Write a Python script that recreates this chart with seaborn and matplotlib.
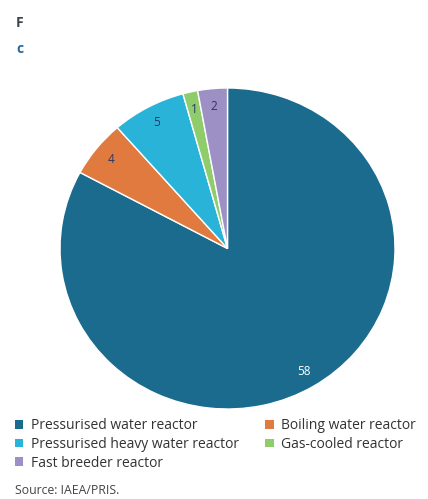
import matplotlib
matplotlib.use("Agg")
import matplotlib.pyplot as plt
from matplotlib.patches import Patch
import seaborn as sns

categories = ["Pressurised water reactor", "Boiling water reactor",
              "Pressurised heavy water reactor", "Gas-cooled reactor",
              "Fast breeder reactor"]
values = [58, 4, 5, 1, 2]
colors = ["#1a6b8e", "#e07a3e", "#2ab3d8", "#8fcd6c", "#9c90c4"]
label_colors = ["white", "#2b3566", "#2b3566", "#2b3566", "#2b3566"]
source_text = "Source: IAEA/PRIS."

sns.set_theme(style="white")
plt.rcParams['font.family'] = ['Open Sans', 'DejaVu Sans']

W, H = 428, 499
fig = plt.figure(figsize=(W / 100, H / 100), dpi=100)
fig.patch.set_facecolor("white")

cx, cy, rx, ry = 227.5, 248.5, 167.5, 160.5
ax = fig.add_axes([(cx - rx) / W, (H - cy - ry) / H, 2 * rx / W, 2 * ry / H])

total = sum(values)
wedges, texts, autotexts = ax.pie(
    values, colors=colors, startangle=90, counterclock=False,
    autopct=lambda p: f"{round(p * total / 100)}", pctdistance=0.89,
    wedgeprops=dict(edgecolor="white", linewidth=1.0),
    textprops=dict(fontsize=8.5))
for t, c in zip(autotexts, label_colors):
    t.set_color(c)
ax.set_aspect("auto")
ax.set_xlim(-1, 1)
ax.set_ylim(-1, 1)
ax.axis("off")

# truncated title fragments
fig.text(16 / W, 1 - 23 / H, "F", fontsize=10, color="#3a4550", va="center", ha="left",
         fontweight="bold")
fig.text(16 / W, 1 - 49 / H, "c", fontsize=10, color="#2a6a9a", va="center", ha="left",
         fontweight="bold")

order = [0, 2, 4, 1, 3]
handles = [Patch(facecolor=colors[i], edgecolor="none") for i in order]
labels = [categories[i] for i in order]
leg = fig.legend(handles, labels, ncol=2, loc="upper left",
                 bbox_to_anchor=(15 / W, 1 - 418 / H), frameon=False,
                 fontsize=10, handlelength=0.6, handleheight=0.6,
                 handletextpad=0.55, columnspacing=1.9, labelspacing=0.28,
                 borderaxespad=0, borderpad=0)
for t in leg.get_texts():
    t.set_color("#333333")

fig.text(15 / W, 1 - 491 / H, source_text, fontsize=8.8, color="#444444",
         va="center", ha="left")

fig.savefig("out.png", dpi=100)
